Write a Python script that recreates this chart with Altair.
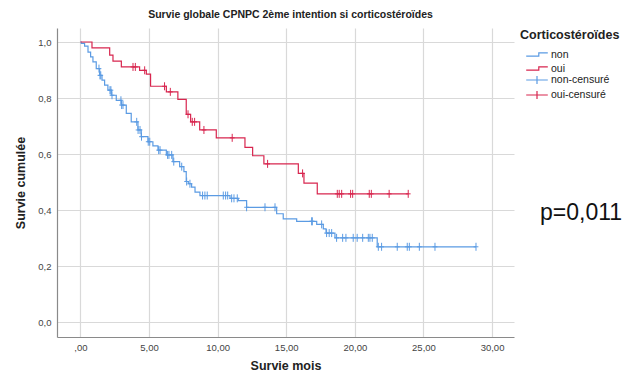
import altair as alt
import pandas as pd

# ---- data ----
# "oui" (corticosteroids) Kaplan-Meier steps
oui_t = [0, 0.84, 2.13, 2.37, 2.98, 4.31, 4.80, 5.11, 6.26, 7.10, 7.71, 8.03, 8.69,
         9.90, 11.99, 12.55, 13.37, 15.88, 16.29, 17.26, 23.89]
oui_s = [1.0, 0.979, 0.953, 0.932, 0.911, 0.899, 0.885, 0.842, 0.822, 0.795, 0.742,
         0.715, 0.686, 0.658, 0.624, 0.594, 0.565, 0.531, 0.496, 0.458, 0.458]
oui_cens = [3.83, 4.0, 4.68, 6.13, 6.55, 7.84, 8.15, 8.32, 9.0, 11.06, 13.64, 16.19,
            18.72, 18.86, 19.04, 19.69, 19.84, 21.05, 21.2, 22.5, 23.89]

# "non" Kaplan-Meier steps
non_t = [0, 0.06, 0.30, 0.55, 0.74, 0.91, 1.15, 1.40, 1.57, 1.76, 2.0, 2.25, 2.61,
         2.98, 3.34, 3.7, 4.19, 4.43, 4.92, 5.28, 5.65, 6.26, 6.74, 7.23, 7.54, 7.71,
         7.86, 8.1, 8.35, 8.71, 10.9, 11.5, 12.11, 14.3, 14.78, 15.76, 17.22, 17.7,
         17.9, 18.55, 21.63, 28.83]
non_s = [1.0, 0.995, 0.985, 0.964, 0.947, 0.929, 0.905, 0.881, 0.864, 0.846, 0.828,
         0.81, 0.792, 0.775, 0.745, 0.715, 0.686, 0.662, 0.644, 0.629, 0.614, 0.597,
         0.573, 0.555, 0.537, 0.502, 0.494, 0.482, 0.464, 0.452, 0.442, 0.434, 0.41,
         0.387, 0.369, 0.36, 0.349, 0.333, 0.318, 0.301, 0.269, 0.269]
non_cens = [1.35, 1.42, 1.48, 2.15, 2.22, 2.3, 2.95, 3.0, 3.1, 4.1, 4.2, 4.34, 4.45,
            4.94, 5.05, 5.7, 5.8, 6.35, 6.45, 6.65, 6.8, 7.38, 7.74, 7.98,
            8.9, 9.07, 9.24, 10.41, 10.58, 10.73, 11.02, 11.19, 11.43, 12.11, 13.45,
            14.18, 16.85, 16.9, 17.58, 17.94, 18.13, 18.31, 18.67, 19.11, 19.35, 19.88,
            20.17, 20.57, 20.98, 21.1, 21.27, 21.71, 21.95, 23.09, 23.82, 23.97, 24.7,
            25.84, 28.83]

groups = ["non", "oui"]
cens_groups = ["non-censuré", "oui-censuré"]
x_ticks = [0, 5, 10, 15, 20, 25, 30]
y_ticks = [0.0, 0.2, 0.4, 0.6, 0.8, 1.0]
p_text = "p=0,011"
title_text = "Survie globale CPNPC 2ème intention si corticostéroïdes"

BLUE = "#5b9be3"
RED = "#d8264f"
FONT = "Liberation Sans"


def lookup(times, surv, t):
    val = surv[0]
    for ti, si in zip(times, surv):
        if ti <= t:
            val = si
    return val


lines = pd.concat([
    pd.DataFrame({"t": non_t, "s": non_s, "groupe": groups[0]}),
    pd.DataFrame({"t": oui_t, "s": oui_s, "groupe": groups[1]}),
])
cens = pd.concat([
    pd.DataFrame({"t": non_cens, "s": [lookup(non_t, non_s, c) for c in non_cens],
                  "cens": cens_groups[0]}),
    pd.DataFrame({"t": oui_cens, "s": [lookup(oui_t, oui_s, c) for c in oui_cens],
                  "cens": cens_groups[1]}),
])

x_enc = alt.X("t:Q",
              scale=alt.Scale(domain=[-1.71, 31.6], nice=False, zero=False),
              axis=alt.Axis(values=x_ticks, title="Survie mois", ticks=False,
                            labelExpr="datum.value == 0 ? ',00' : replace(format(datum.value, '.2f'), '.', ',')",
                            labelPadding=5, titlePadding=8))
y_enc = alt.Y("s:Q",
              scale=alt.Scale(domain=[-0.053, 1.05], nice=False, zero=False),
              axis=alt.Axis(values=y_ticks, title="Survie cumulée", ticks=False,
                            labelExpr="replace(format(datum.value, '.1f'), '.', ',')",
                            labelPadding=6, titlePadding=10))

STEP_PATH = "M-1.8,0.28H0.3V-0.28H1.8"
CROSS_LEG = "M-1.8,0H1.8M0,-0.65V0.65"
CROSS_PT = "M-0.6,0H0.6M0,-1V1"

line_layer = alt.Chart(lines).mark_line(interpolate="step-after", strokeWidth=1.2).encode(
    x=x_enc, y=y_enc,
    color=alt.Color("groupe:N",
                    scale=alt.Scale(domain=groups, range=[BLUE, RED]),
                    legend=alt.Legend(title="Corticostéroïdes", orient="none",
                                      legendX=463, legendY=1,
                                      symbolType=STEP_PATH, symbolSize=144,
                                      symbolStrokeWidth=1.2, symbolFillColor="transparent",
                                      symbolOffset=10, labelOffset=7, rowPadding=1,
                                      titleFontSize=12.5, titleFont=FONT, titleFontWeight="bold",
                                      titleColor="#222", labelFont=FONT, labelFontSize=10.5,
                                      labelColor="#222", titlePadding=6)),
)

cens_layer = alt.Chart(cens).mark_point(shape=CROSS_PT, filled=False, size=64, strokeWidth=1,
                                         opacity=1).encode(
    x=x_enc, y=y_enc,
    stroke=alt.Stroke("cens:N",
                      scale=alt.Scale(domain=cens_groups, range=[BLUE, RED]),
                      legend=alt.Legend(title=None, orient="none",
                                        legendX=463, legendY=45,
                                        symbolType=CROSS_LEG, symbolSize=144,
                                        symbolStrokeWidth=1.2, symbolFillColor="transparent",
                                        symbolOffset=10, labelOffset=7, rowPadding=1,
                                        labelFont=FONT, labelFontSize=10.5, labelColor="#222")),
)

p_layer = alt.Chart(pd.DataFrame({"txt": [p_text]})).mark_text(
    align="left", baseline="middle", fontSize=23, font=FONT, color="#111"
).encode(x=alt.value(483), y=alt.value(185), text="txt:N")

chart = alt.layer(line_layer, cens_layer, p_layer).resolve_legend(
    color="independent", stroke="independent"
).properties(
    width=457, height=309,
    autosize=alt.AutoSizeParams(type="none"),
    padding={"left": 57, "top": 28, "right": 127, "bottom": 40},
    title=alt.TitleParams(title_text, anchor="middle", fontSize=10.5, font=FONT,
                          fontWeight="bold", color="#222", offset=8, dx=5),
    background="white",
).configure_view(stroke=None).configure_axis(
    gridColor="#d9d9d9", gridWidth=1.2, domainColor="#8a8a8a", domainWidth=1.2,
    labelFont=FONT, labelFontSize=9.5, labelColor="#444",
    titleFont=FONT, titleFontSize=12.5, titleFontWeight="bold", titleColor="#222",
)

chart.save("out.html", embed_options={"renderer": "svg", "actions": False})
